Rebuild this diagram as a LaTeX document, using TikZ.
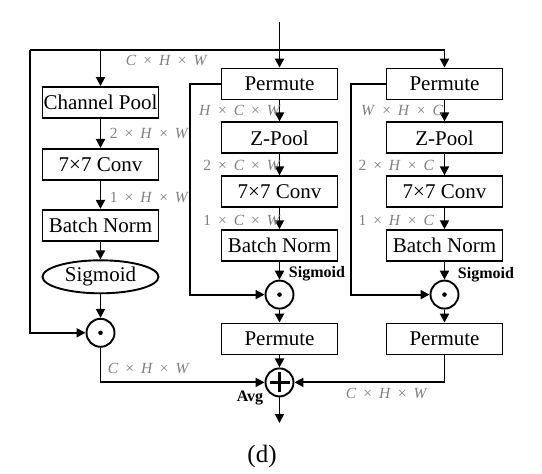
\documentclass[tikz,border=0pt]{standalone}
\usepackage{fontspec}
\setmainfont{Liberation Serif}
\usetikzlibrary{positioning,shapes.geometric,arrows.meta}
\definecolor{dimgray}{RGB}{128,128,128}
\newcommand{\shapelbl}[3]{#1\hspace{.45em}×\hspace{.45em}\textit{#2}\hspace{.45em}×\hspace{.45em}\textit{#3}}

\begin{document}
\begin{tikzpicture}[
		x=1pt, y=-1pt,
		line width=1.9pt,
		>={Triangle[length=9pt,width=9pt]},
		blk/.style = {
			draw, rectangle,
			minimum width=116pt,
			minimum height=31pt,
			inner sep=0pt,
			font=\fontsize{21}{24}\selectfont
			},
		sigm/.style = {blk, ellipse, minimum height=33pt},
		op/.style = {draw, circle, minimum size=28pt, inner sep=0pt},
		dotop/.style = {op, path picture={\fill (path picture bounding box.center) circle (2.3pt);}},
		addop/.style = {op, path picture={
			\draw[line width=2.8pt] ([xshift=-10pt]path picture bounding box.center) -- ([xshift=10pt]path picture bounding box.center);
			\draw[line width=2.8pt] ([yshift=-10pt]path picture bounding box.center) -- ([yshift=10pt]path picture bounding box.center);}},
		lbl/.style = {text=dimgray, inner sep=0pt, font=\fontsize{15.5}{18}\selectfont},
		tag/.style = {inner sep=0pt, font=\fontsize{16}{19}\selectfont\bfseries}
		]
		\useasboundingbox (0,0) rectangle (542,474);
		
		% channel branch
		\node [blk] (cpool) at (100.5,102.5) {Channel Pool};
		\node [blk, below=29pt of cpool] (conv1) {7×7 Conv};
		\node [blk, below=28pt of conv1] (bn1) {Batch Norm};
		\node [sigm, below=17.6pt of bn1] (sig1) {Sigmoid};
		\node [dotop, below=23.6pt of sig1] (mul1) {};
		
		% H branch
		\node [blk] (perm1) at (279.5,84) {Permute};
		\node [blk, below=21pt of perm1] (zpool1) {Z-Pool};
		\node [blk, below=21pt of zpool1] (conv2) {7×7 Conv};
		\node [blk, below=21pt of conv2] (bn2) {Batch Norm};
		\node [dotop, below=17.5pt of bn2] (mul2) {};
		\node [blk, below=13pt of mul2] (perm3) {Permute};
		\node [addop, below=12pt of perm3] (add) {};
		
		% W branch
		\node [blk] (perm2) at (444.5,84) {Permute};
		\node [blk, below=21pt of perm2] (zpool2) {Z-Pool};
		\node [blk, below=21pt of zpool2] (conv3) {7×7 Conv};
		\node [blk, below=21pt of conv3] (bn3) {Batch Norm};
		\node [dotop, below=17.5pt of bn3] (mul3) {};
		\node [blk, below=13pt of mul3] (perm4) {Permute};
		
		\coordinate (in) at (279.5,22);
		\coordinate (topL) at (30,50);
		\coordinate (topR) at (444.5,50);
		\coordinate (out) at (279.5,423);
		
		\draw[->] (in) -- (perm1);
		\draw (topL) -- (topR);
		\draw[->] (topR) -- (perm2);
		\draw[->] (cpool.north |- topL) -- (cpool);
		\draw[->] (topL) |- (mul1.west);
		
		\draw[->] (cpool) -- (conv1);
		\draw[->] (conv1) -- (bn1);
		\draw[->] (bn1) -- (sig1);
		\draw[->] (sig1) -- (mul1);
		\draw[->] (mul1) |- (add.west);
		
		\draw[->] (perm1) -- (zpool1);
		\draw[->] (zpool1) -- (conv2);
		\draw[->] (conv2) -- (bn2);
		\draw[->] (bn2) -- (mul2);
		\draw[->] (mul2) -- (perm3);
		\draw[->] (perm3) -- (add);
		\draw[->] (perm1.west) -- ++(-31,0) |- (mul2.west);
		
		\draw[->] (perm2) -- (zpool2);
		\draw[->] (zpool2) -- (conv3);
		\draw[->] (conv3) -- (bn3);
		\draw[->] (bn3) -- (mul3);
		\draw[->] (mul3) -- (perm4);
		\draw[->] (perm4) |- (add.east);
		\draw[->] (perm2.west) -- ++(-35,0) |- (mul3.west);
		
		\draw[->] (add) -- (out);
		
		% shape labels
		\node [lbl, anchor=west] (l0) at (125,60) {\shapelbl{\textit{C}}{H}{W}};
		\node [lbl, anchor=west] (l1) at (109,133) {\shapelbl{2}{H}{W}};
		\node [lbl, anchor=west] (l2) at (109,197) {\shapelbl{1}{H}{W}};
		\node [lbl, anchor=west] (l3) at (107,368) {\shapelbl{\textit{C}}{H}{W}};
		\node [lbl, anchor=east] (l4) at (282,110) {\shapelbl{\textit{H}}{C}{W}};
		\node [lbl, anchor=east] (l5) at (282,165) {\shapelbl{2}{C}{W}};
		\node [lbl, anchor=east] (l6) at (282,220) {\shapelbl{1}{C}{W}};
		\node [lbl, anchor=east] (l7) at (444,110) {\shapelbl{\textit{W}}{H}{C}};
		\node [lbl, anchor=east] (l8) at (435,165) {\shapelbl{2}{H}{C}};
		\node [lbl, anchor=east] (l9) at (435,220) {\shapelbl{1}{H}{C}};
		\node [lbl, anchor=west] (l10) at (345,393) {\shapelbl{\textit{C}}{H}{W}};
		
		\node [tag, anchor=west] (s1) at (288,274) {Sigmoid};
		\node [tag, anchor=west] (s2) at (457,275) {Sigmoid};
		\node [tag] (avg) at (250,398) {Avg};
		\node [font=\fontsize{25}{28}\selectfont, inner sep=0pt] (cap) at (262,456) {(d)};
		
	\end{tikzpicture}
\end{document}
